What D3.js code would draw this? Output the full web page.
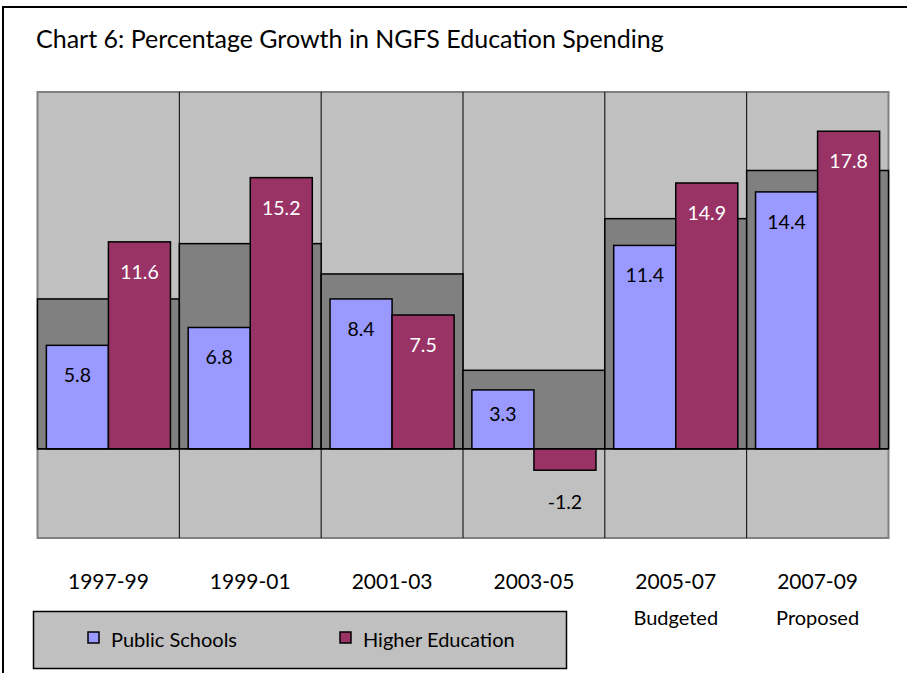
<!DOCTYPE html>
<html>
<head>
<meta charset="utf-8">
<script src="https://cdn.jsdelivr.net/npm/d3@7/dist/d3.min.js"></script>
<style>
  html, body { margin: 0; padding: 0; background: #ffffff; }
  svg { display: block; font-family: Lato, "Open Sans", sans-serif; }
</style>
</head>
<body>
<svg id="chart" width="907" height="673"></svg>
<script>
// Biennium periods and their secondary label line
const categories = ["1997-99", "1999-01", "2001-03", "2003-05", "2005-07", "2007-09"];
const subLabels = ["", "", "", "", "Budgeted", "Proposed"];

// Percentage growth by biennium
const publicSchools = [5.8, 6.8, 8.4, 3.3, 11.4, 14.4];
const higherEducation = [11.6, 15.2, 7.5, -1.2, 14.9, 17.8];
// Overall education growth drawn behind each pair
const totalEducation = [8.4, 11.5, 9.8, 4.4, 12.9, 15.6];

const seriesNames = ["Public Schools", "Higher Education"];
const seriesColors = ["#9999FF", "#993366"];
const labelColors = ["#000000", "#ffffff"];

const svg = d3.select("#chart");

// Outer frame (top and left edges)
svg.append("path")
  .attr("d", "M3,673 L3,7 L907,7")
  .attr("fill", "none")
  .attr("stroke", "#000")
  .attr("stroke-width", 2);

// Title
svg.append("text")
  .attr("x", 36)
  .attr("y", 48)
  .attr("font-size", 25)
  .attr("fill", "#000")
  .text("Chart 6: Percentage Growth in NGFS Education Spending");

const plot = { left: 37.5, right: 888.5, top: 92, bottom: 538 };

const x0 = d3.scaleBand()
  .domain(categories)
  .range([plot.left, plot.right])
  .padding(0);

const x1 = d3.scaleBand()
  .domain(seriesNames)
  .range([0, x0.bandwidth()])
  .paddingInner(0)
  .paddingOuter(0.143);

const y = d3.scaleLinear()
  .domain([-5, 20])
  .range([plot.bottom, plot.top]);

// Plot background
svg.append("rect")
  .attr("x", plot.left)
  .attr("y", plot.top)
  .attr("width", plot.right - plot.left)
  .attr("height", plot.bottom - plot.top)
  .attr("fill", "#C0C0C0")
  .attr("stroke", "#808080")
  .attr("stroke-width", 2);

// Vertical separators between periods
svg.append("g")
  .selectAll("line")
  .data(categories.slice(1))
  .join("line")
  .attr("x1", d => x0(d))
  .attr("x2", d => x0(d))
  .attr("y1", plot.top)
  .attr("y2", plot.bottom)
  .attr("stroke", "#000")
  .attr("stroke-width", 1);

// Total growth backdrop bars
svg.append("g")
  .selectAll("rect")
  .data(totalEducation)
  .join("rect")
  .attr("x", (d, i) => x0(categories[i]))
  .attr("width", x0.bandwidth())
  .attr("y", d => y(Math.max(0, d)))
  .attr("height", d => Math.abs(y(d) - y(0)))
  .attr("fill", "#808080")
  .attr("stroke", "#000")
  .attr("stroke-width", 1.5);

// Series bars
const series = [publicSchools, higherEducation];
series.forEach((values, s) => {
  const g = svg.append("g");
  g.selectAll("rect")
    .data(values)
    .join("rect")
    .attr("x", (d, i) => x0(categories[i]) + x1(seriesNames[s]))
    .attr("width", x1.bandwidth())
    .attr("y", d => y(Math.max(0, d)))
    .attr("height", d => Math.abs(y(d) - y(0)))
    .attr("fill", seriesColors[s])
    .attr("stroke", "#000")
    .attr("stroke-width", 1.5);
});

// Zero line
svg.append("line")
  .attr("x1", plot.left)
  .attr("x2", plot.right)
  .attr("y1", y(0))
  .attr("y2", y(0))
  .attr("stroke", "#000")
  .attr("stroke-width", 1.5);

// Value labels
series.forEach((values, s) => {
  svg.append("g")
    .selectAll("text")
    .data(values)
    .join("text")
    .attr("x", (d, i) => x0(categories[i]) + x1(seriesNames[s]) + x1.bandwidth() / 2)
    .attr("y", d => {
      const h = Math.abs(y(d) - y(0));
      if (d < 0) return y(d) + 39;
      return y(d) + Math.min(37, h / 2 + 2);
    })
    .attr("text-anchor", "middle")
    .attr("font-size", 19.5)
    .attr("fill", d => d < 0 ? "#000" : labelColors[s])
    .text(d => d.toFixed(1));
});

// Category labels
const cats = svg.append("g");
cats.selectAll("text.cat")
  .data(categories)
  .join("text")
  .attr("class", "cat")
  .attr("x", d => x0(d) + x0.bandwidth() / 2)
  .attr("y", 589)
  .attr("text-anchor", "middle")
  .attr("font-size", 21)
  .attr("fill", "#000")
  .text(d => d);
cats.selectAll("text.sub")
  .data(subLabels)
  .join("text")
  .attr("class", "sub")
  .attr("x", (d, i) => x0(categories[i]) + x0.bandwidth() / 2)
  .attr("y", 625)
  .attr("text-anchor", "middle")
  .attr("font-size", 20)
  .attr("fill", "#000")
  .text(d => d);

// Legend
const legend = svg.append("g");
legend.append("rect")
  .attr("x", 33.5)
  .attr("y", 611.5)
  .attr("width", 533)
  .attr("height", 57)
  .attr("fill", "#C0C0C0")
  .attr("stroke", "#000")
  .attr("stroke-width", 1.5);
const legendX = [88, 340];
seriesNames.forEach((name, s) => {
  legend.append("rect")
    .attr("x", legendX[s])
    .attr("y", 632)
    .attr("width", 11)
    .attr("height", 11)
    .attr("fill", seriesColors[s])
    .attr("stroke", "#000")
    .attr("stroke-width", 1.5);
  legend.append("text")
    .attr("x", legendX[s] + 23)
    .attr("y", 647)
    .attr("font-size", 20)
    .attr("fill", "#000")
    .text(name);
});
</script>
</body>
</html>
